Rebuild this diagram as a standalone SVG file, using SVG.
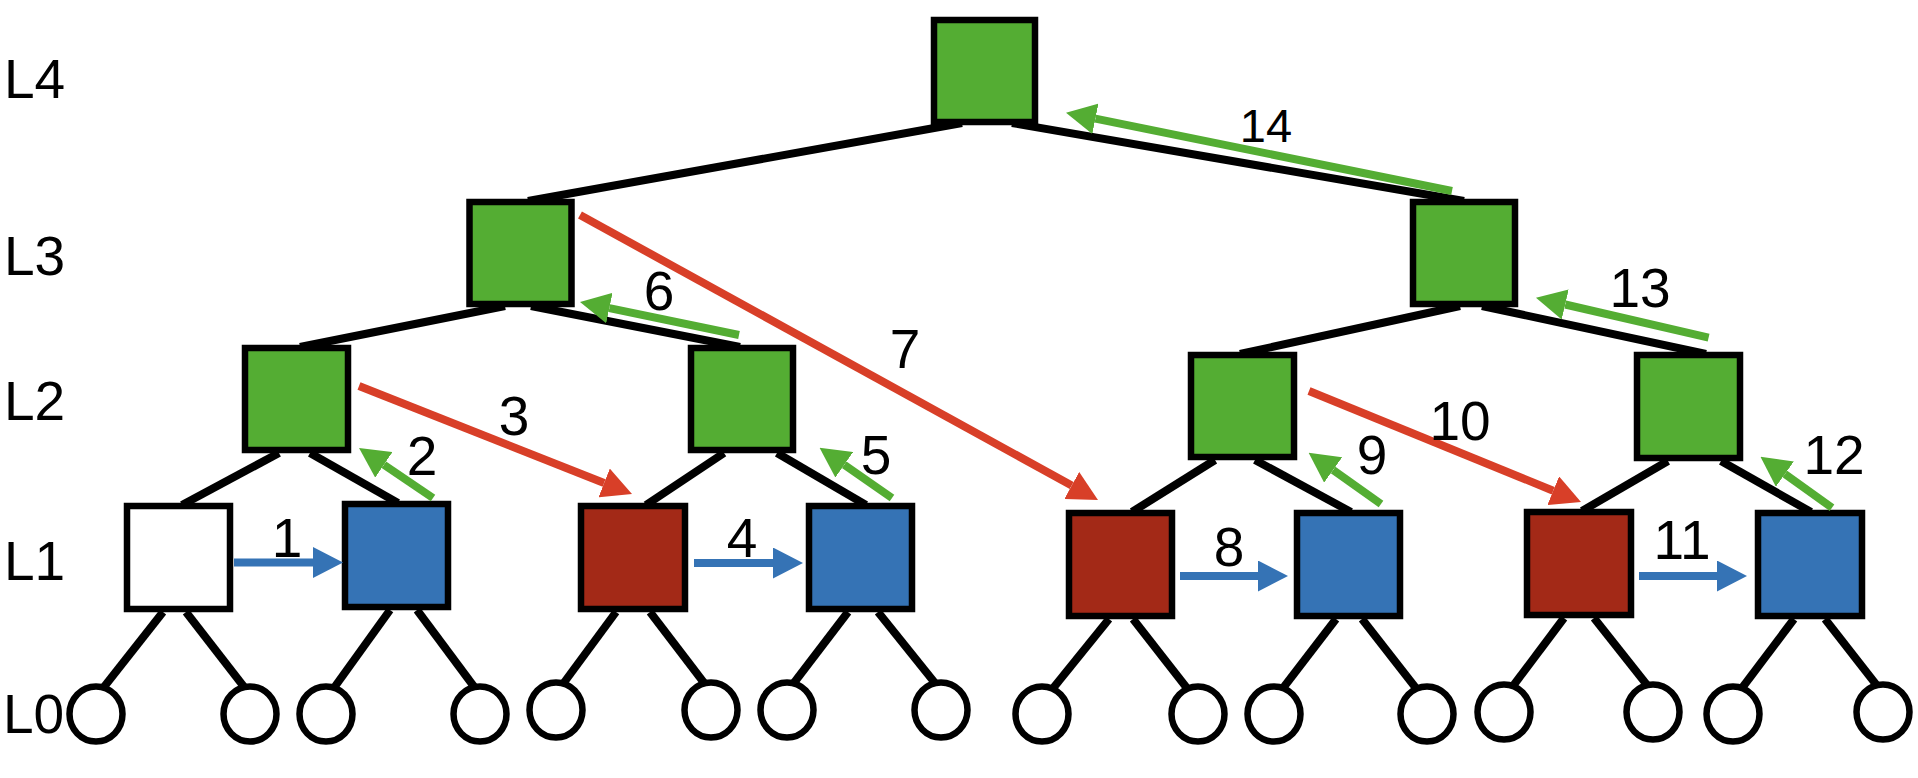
<svg xmlns="http://www.w3.org/2000/svg" width="1918" height="778" viewBox="0 0 1918 778">
<style>
.sq{stroke:#000;stroke-width:6.5}
.g{fill:#54AD33}.b{fill:#3573B5}.r{fill:#A32917}.w{fill:#fff}
.leaf{fill:#fff;stroke:#000;stroke-width:6.5}
.edge{stroke:#000;stroke-width:8;fill:none}
.ab{stroke:#3573B5;stroke-width:8;fill:none;marker-end:url(#hb)}
.ag{stroke:#54AD33;stroke-width:8;fill:none;marker-end:url(#hg)}
.ar{stroke:#D83F28;stroke-width:8;fill:none;marker-end:url(#hr)}
text{font-family:"Liberation Sans",Arial,sans-serif;font-size:55px;fill:#000}
.n{text-anchor:middle}
</style>
<defs>
<marker id="hb" markerUnits="userSpaceOnUse" viewBox="0 0 30 31" markerWidth="30" markerHeight="31" refX="0" refY="15.5" orient="auto"><path d="M0,0L30,15.5L0,31Z" fill="#3573B5"/></marker>
<marker id="hg" markerUnits="userSpaceOnUse" viewBox="0 0 30 31" markerWidth="30" markerHeight="31" refX="0" refY="15.5" orient="auto"><path d="M0,0L30,15.5L0,31Z" fill="#54AD33"/></marker>
<marker id="hr" markerUnits="userSpaceOnUse" viewBox="0 0 30 31" markerWidth="30" markerHeight="31" refX="0" refY="15.5" orient="auto"><path d="M0,0L30,15.5L0,31Z" fill="#D83F28"/></marker>
</defs>
<rect width="1918" height="778" fill="#fff"/>
<g id="level-labels">
<text x="4" y="98">L4</text>
<text x="4" y="275">L3</text>
<text x="4" y="420">L2</text>
<text x="4" y="580">L1</text>
<text x="3" y="733">L0</text>
</g>
<g id="connectors">
<g id="tree-edges">
<line class="edge" x1="528" y1="201" x2="962" y2="123"/>
<line class="edge" x1="1012" y1="123" x2="1464" y2="201"/>
<line class="edge" x1="505" y1="306" x2="300" y2="347"/>
<line class="edge" x1="531" y1="306" x2="740" y2="347"/>
<line class="edge" x1="1460" y1="306" x2="1240" y2="354"/>
<line class="edge" x1="1482" y1="306" x2="1706" y2="354"/>
<line class="edge" x1="279" y1="453" x2="182" y2="505"/>
<line class="edge" x1="310" y1="453" x2="398" y2="503"/>
<line class="edge" x1="724" y1="453" x2="646" y2="505"/>
<line class="edge" x1="777" y1="453" x2="866" y2="505"/>
<line class="edge" x1="1215" y1="460" x2="1132" y2="512"/>
<line class="edge" x1="1255" y1="460" x2="1351" y2="512"/>
<line class="edge" x1="1668" y1="461" x2="1582" y2="511"/>
<line class="edge" x1="1721" y1="461" x2="1811" y2="512"/>
<line class="edge" x1="163" y1="612" x2="100" y2="692"/>
<line class="edge" x1="186" y1="612" x2="248" y2="692"/>
<line class="edge" x1="390" y1="610" x2="331" y2="692"/>
<line class="edge" x1="417" y1="610" x2="478" y2="692"/>
<line class="edge" x1="616" y1="612" x2="560" y2="688"/>
<line class="edge" x1="650" y1="612" x2="708" y2="688"/>
<line class="edge" x1="848" y1="612" x2="790" y2="688"/>
<line class="edge" x1="878" y1="612" x2="939" y2="688"/>
<line class="edge" x1="1109" y1="619" x2="1050" y2="692"/>
<line class="edge" x1="1133" y1="619" x2="1190" y2="692"/>
<line class="edge" x1="1336" y1="619" x2="1280" y2="692"/>
<line class="edge" x1="1362" y1="619" x2="1419" y2="692"/>
<line class="edge" x1="1564" y1="618" x2="1510" y2="690"/>
<line class="edge" x1="1594" y1="618" x2="1651" y2="690"/>
<line class="edge" x1="1794" y1="619" x2="1739" y2="692"/>
<line class="edge" x1="1825" y1="619" x2="1882" y2="692"/>
</g>
</g>
<g id="node-root"><rect class="sq g" x="934" y="20" width="101" height="102"/></g>
<g id="node-l3-a"><rect class="sq g" x="469.5" y="202" width="102" height="102"/></g>
<g id="node-l3-b"><rect class="sq g" x="1413" y="202" width="102" height="102"/></g>
<g id="node-l2-a"><rect class="sq g" x="245" y="348" width="103" height="102"/></g>
<g id="node-l2-b"><rect class="sq g" x="691" y="348" width="102" height="102"/></g>
<g id="node-l2-c"><rect class="sq g" x="1191" y="355" width="103" height="102"/></g>
<g id="node-l2-d"><rect class="sq g" x="1637" y="355" width="103" height="103"/></g>
<g id="node-l1-a"><rect class="sq w" x="127" y="506" width="103" height="103"/></g>
<g id="node-l1-b"><rect class="sq b" x="345" y="504" width="103" height="103"/></g>
<g id="node-l1-c"><rect class="sq r" x="581" y="506" width="104" height="103"/></g>
<g id="node-l1-d"><rect class="sq b" x="809" y="506" width="103" height="103"/></g>
<g id="node-l1-e"><rect class="sq r" x="1069" y="513" width="103" height="103"/></g>
<g id="node-l1-f"><rect class="sq b" x="1297" y="513" width="103" height="103"/></g>
<g id="node-l1-g"><rect class="sq r" x="1527" y="512" width="104" height="103"/></g>
<g id="node-l1-h"><rect class="sq b" x="1758" y="513" width="104" height="103"/></g>
<g id="node-l0-1"><ellipse class="leaf" cx="96" cy="714" rx="26.5" ry="27.5"/></g>
<g id="node-l0-2"><ellipse class="leaf" cx="250" cy="714" rx="26.5" ry="27.5"/></g>
<g id="node-l0-3"><ellipse class="leaf" cx="326" cy="714" rx="26.5" ry="27.5"/></g>
<g id="node-l0-4"><ellipse class="leaf" cx="480" cy="714" rx="26.5" ry="27.5"/></g>
<g id="node-l0-5"><ellipse class="leaf" cx="556" cy="710" rx="26.5" ry="27.5"/></g>
<g id="node-l0-6"><ellipse class="leaf" cx="711" cy="710" rx="26.5" ry="27.5"/></g>
<g id="node-l0-7"><ellipse class="leaf" cx="787" cy="710" rx="26.5" ry="27.5"/></g>
<g id="node-l0-8"><ellipse class="leaf" cx="941" cy="710" rx="26.5" ry="27.5"/></g>
<g id="node-l0-9"><ellipse class="leaf" cx="1042" cy="714" rx="26.5" ry="27.5"/></g>
<g id="node-l0-10"><ellipse class="leaf" cx="1198" cy="714" rx="26.5" ry="27.5"/></g>
<g id="node-l0-11"><ellipse class="leaf" cx="1274" cy="714" rx="26.5" ry="27.5"/></g>
<g id="node-l0-12"><ellipse class="leaf" cx="1427" cy="714" rx="26.5" ry="27.5"/></g>
<g id="node-l0-13"><ellipse class="leaf" cx="1504" cy="712" rx="26.5" ry="27.5"/></g>
<g id="node-l0-14"><ellipse class="leaf" cx="1653" cy="712" rx="26.5" ry="27.5"/></g>
<g id="node-l0-15"><ellipse class="leaf" cx="1733" cy="714" rx="26.5" ry="27.5"/></g>
<g id="node-l0-16"><ellipse class="leaf" cx="1883" cy="712" rx="26.5" ry="27.5"/></g>
<g id="steps">
<line class="ab" x1="234" y1="562.5" x2="313" y2="562.5"/>
<line class="ab" x1="694" y1="563" x2="773" y2="563"/>
<line class="ab" x1="1180" y1="576" x2="1258" y2="576"/>
<line class="ab" x1="1639" y1="576" x2="1717" y2="576"/>
<line class="ag" x1="433" y1="498" x2="383.9" y2="464.8"/>
<line class="ag" x1="892" y1="498" x2="844.2" y2="464.8"/>
<line class="ag" x1="1381" y1="504" x2="1333.1" y2="470"/>
<line class="ag" x1="1832" y1="507.7" x2="1784.9" y2="474.1"/>
<line class="ag" x1="739" y1="335" x2="609.4" y2="308.1"/>
<line class="ag" x1="1708.6" y1="337.7" x2="1565.2" y2="304.5"/>
<line class="ag" x1="1452" y1="191" x2="1095.4" y2="118.7"/>
<line class="ar" x1="359" y1="386" x2="604.1" y2="483"/>
<line class="ar" x1="580" y1="215" x2="1071.7" y2="485.5"/>
<line class="ar" x1="1309" y1="391" x2="1553.2" y2="490.7"/>
</g>
<g id="step-labels">
<text class="n" x="287" y="557">1</text>
<text class="n" x="422" y="475">2</text>
<text class="n" x="514" y="435">3</text>
<text class="n" x="742" y="557">4</text>
<text class="n" x="876" y="474">5</text>
<text class="n" x="659" y="310">6</text>
<text class="n" x="905" y="368">7</text>
<text class="n" x="1229" y="566">8</text>
<text class="n" x="1372" y="474">9</text>
<text class="n" x="1460" y="440">10</text>
<text class="n" x="1682" y="559">11</text>
<text class="n" x="1834" y="474">12</text>
<text class="n" x="1640" y="307">13</text>
<text class="n" x="1266" y="142" style="font-size:47px">14</text>
</g>
</svg>
